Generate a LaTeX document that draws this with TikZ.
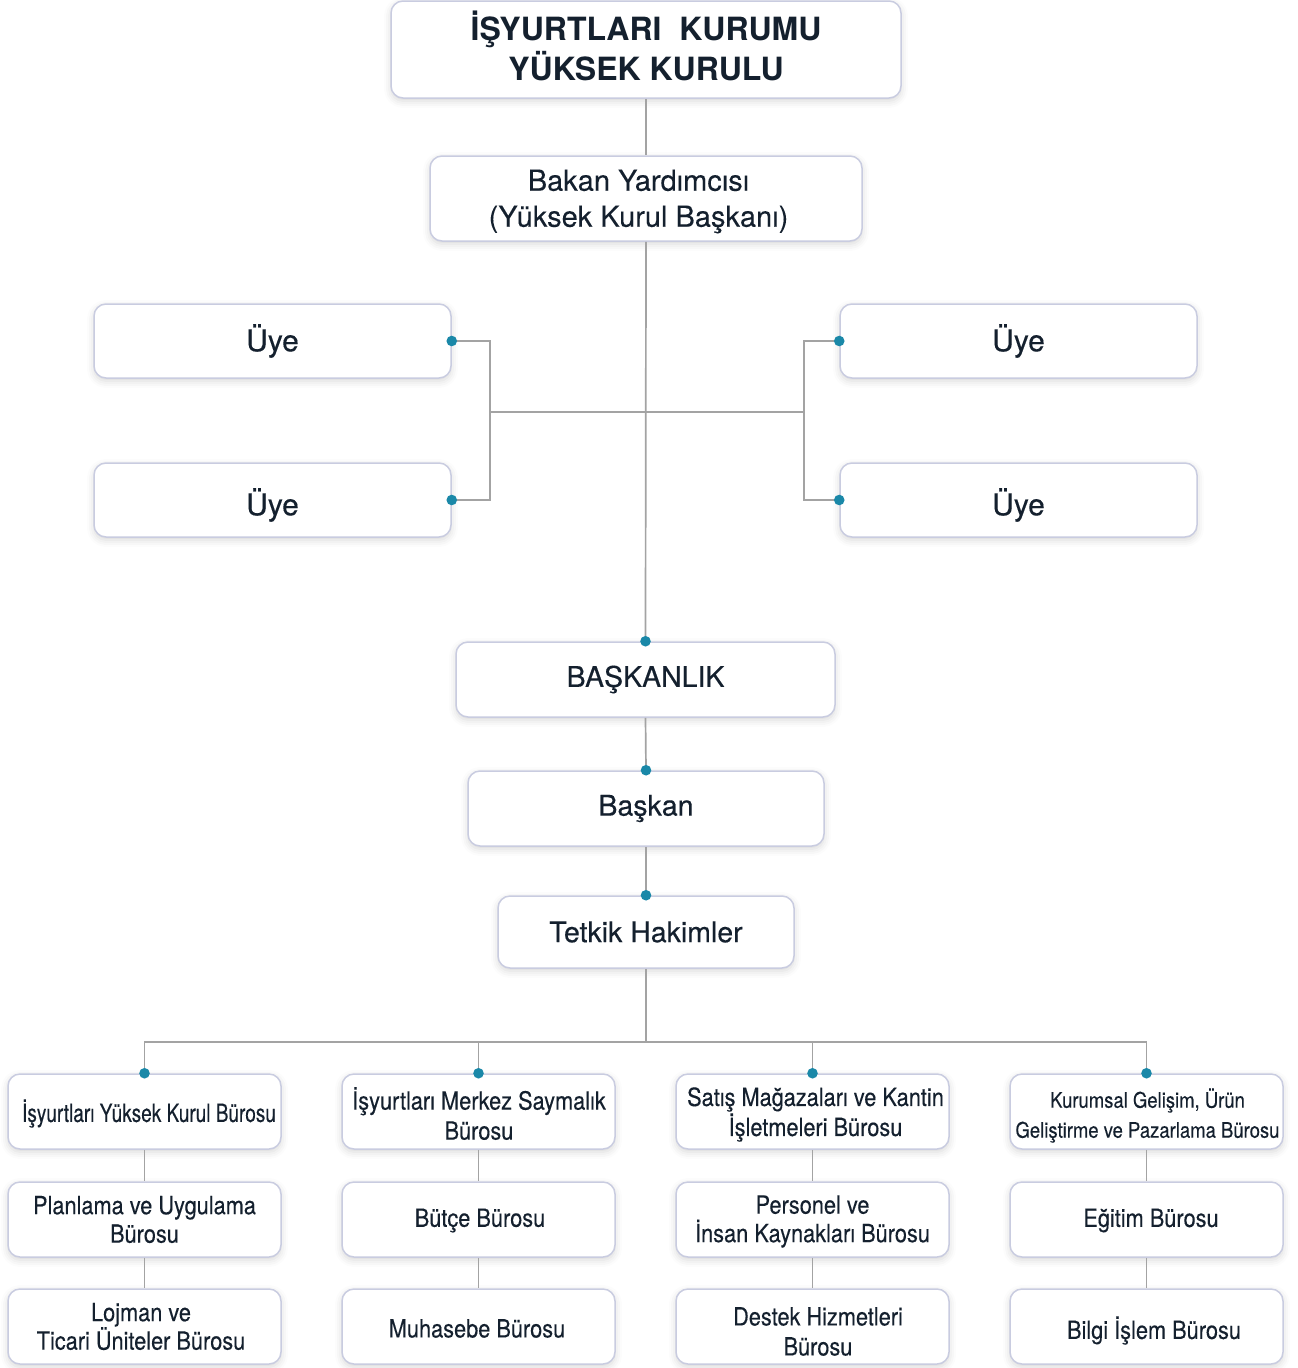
\documentclass[tikz,border=0pt]{standalone}
\usepackage{fontspec}
\setmainfont{TeX Gyre Heros}
\newfontfamily\medfont[FakeBold=0.35]{TeX Gyre Heros}
\newfontfamily\regfont[FakeBold=0.12]{TeX Gyre Heros}
\newfontfamily\cnfont[FakeStretch=0.87,FakeBold=0.25]{TeX Gyre Heros}
\newfontfamily\xcnfont[FakeStretch=0.76,FakeBold=0.25]{TeX Gyre Heros}
\newfontfamily\ycnfont[FakeStretch=0.86,FakeBold=0.2]{TeX Gyre Heros}
\usetikzlibrary{shadows.blur}
\definecolor{txt}{HTML}{14202E}
\definecolor{bord}{HTML}{C9CCE0}
\definecolor{lin}{HTML}{A3A3A3}
\definecolor{dotc}{HTML}{1A88A8}
\tikzset{
 box/.style={draw=bord, line width=1.5pt, fill=white, rounded corners=12pt, inner sep=0pt,
   blur shadow={shadow xshift=0pt, shadow yshift=-3pt, shadow blur radius=7pt, shadow opacity=16}},
 tx/.style={text=txt, align=center, inner sep=0pt},
 toptxt/.style={tx, font={\fontsize{32}{40}\selectfont\bfseries}},
 baktxt/.style={tx, font={\regfont\fontsize{29}{36}\selectfont}},
 midtxt/.style={tx, font={\medfont\fontsize{28.5}{36}\selectfont}},
 uyetxt/.style={tx, font={\medfont\fontsize{30}{36}\selectfont}},
 lowtxt/.style={tx, font={\cnfont\fontsize{25}{28.5}\selectfont}},
 lowtxtw/.style={tx, font={\cnfont\fontsize{25}{30}\selectfont}},
 topbox/.style={box, minimum width=510pt, minimum height=97pt},
 bakbox/.style={box, minimum width=432pt, minimum height=85pt},
 uyebox/.style={box, minimum width=357pt, minimum height=74pt},
 lowbox/.style={box, minimum width=273pt, minimum height=75pt},
 conn/.style={draw=lin, line width=1.7pt},
 dotmark/.style={fill=dotc},
}
\begin{document}
\begin{tikzpicture}[x=1pt, y=-1pt]
\useasboundingbox (0,0) rectangle (1298,1368);
% top part
\node[topbox, label={[toptxt, yshift=4pt]center:{İŞYURTLARI\ \ KURUMU\\YÜKSEK KURULU}}] (top) at (646,49.5) {};
\node[bakbox, label={[baktxt, xshift=-7.5pt, yshift=-3pt]center:{Bakan Yardımcısı\\(Yüksek Kurul Başkanı)}}] (bakan) at (646,198.5) {};
\node[uyebox, label={[uyetxt]center:Üye}] (u1) at (272.5,341) {};
\node[uyebox, label={[uyetxt, yshift=-5pt]center:Üye}] (u2) at (272.5,500) {};
\node[uyebox, label={[uyetxt]center:Üye}] (u3) at (1018.5,341) {};
\node[uyebox, label={[uyetxt, yshift=-5pt]center:Üye}] (u4) at (1018.5,500) {};
\node[box, minimum width=379pt, minimum height=75pt, label={[midtxt]center:BAŞKANLIK}] (bask) at (645.5,679.5) {};
\node[box, minimum width=356pt, minimum height=75pt, label={[midtxt]center:Başkan}] (baskan) at (646,808.5) {};
\node[box, minimum width=296pt, minimum height=72pt, label={[midtxt]center:Tetkik Hakimler}] (tetkik) at (646,932) {};
% bottom rows
\node[lowbox, label={[tx, font={\xcnfont\fontsize{25}{28.5}\selectfont}, xshift=4.5pt, yshift=-2pt]center:İşyurtları Yüksek Kurul Bürosu}] (a1) at (144.5,1111.5) {};
\node[lowbox, label={[lowtxt]center:{Planlama ve Uygulama\\Bürosu}}] (a2) at (144.5,1219.5) {};
\node[lowbox, label={[lowtxt, xshift=-3.5pt]center:{Lojman ve\\Ticari Üniteler Bürosu}}] (a3) at (144.5,1326.5) {};
\node[lowbox, label={[lowtxtw, xshift=0.5pt, yshift=-2pt]center:{İşyurtları Merkez Saymalık\\Bürosu}}] (b1) at (478.5,1111.5) {};
\node[lowbox, label={[lowtxt, xshift=1.5pt, yshift=-1pt]center:Bütçe Bürosu}] (b2) at (478.5,1219.5) {};
\node[lowbox, label={[lowtxt, xshift=-1.5pt, yshift=-2pt]center:Muhasebe Bürosu}] (b3) at (478.5,1326.5) {};
\node[lowbox, label={[lowtxtw, xshift=3pt, yshift=-3pt]center:{Satış Mağazaları ve Kantin\\İşletmeleri Bürosu}}] (c1) at (812.5,1111.5) {};
\node[lowbox, label={[lowtxt, yshift=-2pt]center:{Personel ve\\İnsan Kaynakları Bürosu}}] (c2) at (812.5,1219.5) {};
\node[lowbox, label={[lowtxtw, xshift=5.5pt, yshift=-5pt]center:{Destek Hizmetleri\\Bürosu}}] (c3) at (812.5,1326.5) {};
\node[lowbox, label={[tx, font={\ycnfont\fontsize{21.5}{30}\selectfont}, xshift=1pt, yshift=-4pt]center:{Kurumsal Gelişim, Ürün\\Geliştirme ve Pazarlama Bürosu}}] (d1) at (1146.5,1111.5) {};
\node[lowbox, label={[lowtxt, xshift=4.5pt, yshift=-1pt]center:Eğitim Bürosu}] (d2) at (1146.5,1219.5) {};
\node[lowbox, label={[lowtxt, xshift=7.5pt, yshift=-4pt]center:Bilgi İşlem Bürosu}] (d3) at (1146.5,1326.5) {};
% junctions
\coordinate (jl) at (490,412);
\coordinate (jr) at (804,412);
\coordinate (bj) at (646,1042);
% connectors
\draw[conn] (top.south) -- (bakan.north);
\draw[conn] (bakan.south) -- (bask.north);
\draw[conn] (u1.east) -| (jl) |- (u2.east);
\draw[conn] (u3.west) -| (jr) |- (u4.west);
\draw[conn] (jl) -- (jr);
\draw[conn] (bask.south) -- (baskan.north);
\draw[conn] (baskan.south) -- (tetkik.north);
\draw[conn] (tetkik.south) -- (bj);
\draw[conn] (a1.north) |- (bj) -| (d1.north);
\draw[conn] (bj) -| (b1.north);
\draw[conn] (bj) -| (c1.north);
\foreach \c in {a,b,c,d}{
  \draw[conn] (\c1.south) -- (\c2.north);
  \draw[conn] (\c2.south) -- (\c3.north);
}
% dots
\foreach \p in {u1.east,u2.east,u3.west,u4.west,bask.north,baskan.north,tetkik.north,a1.north,b1.north,c1.north,d1.north}
  \fill[dotmark] (\p) circle (5.3pt);
\end{tikzpicture}
\end{document}
